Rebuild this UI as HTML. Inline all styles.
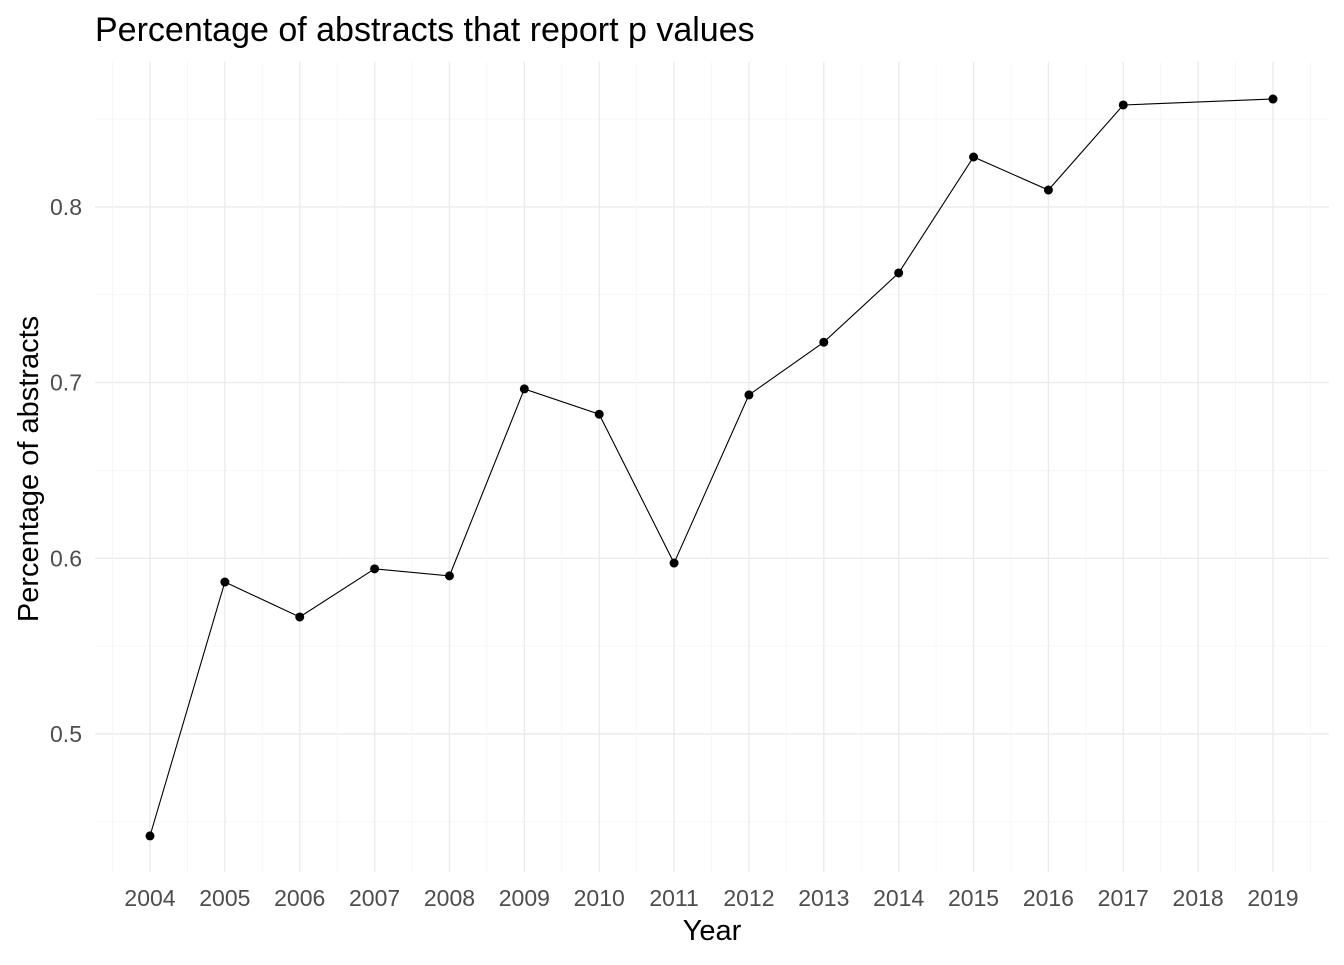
<!DOCTYPE html>
<html><head><meta charset="utf-8"><style>
body{margin:0;background:#fff;font-family:"Liberation Sans",Arial,sans-serif}
</style></head><body>
<svg id="chart" width="1344" height="960" xmlns="http://www.w3.org/2000/svg">
<text x="95" y="41" font-size="34" fill="#000">Percentage of abstracts that report p values</text>
<g id="grid"></g>
<g id="xticks"></g>
<g id="yticks"></g>
<g id="series"></g>
<text x="712" y="940" font-size="29" text-anchor="middle" fill="#000">Year</text>
<text transform="translate(38,469) rotate(-90)" font-size="29" text-anchor="middle" fill="#000">Percentage of abstracts</text>
</svg>
<script>
const years=[2004,2005,2006,2007,2008,2009,2010,2011,2012,2013,2014,2015,2016,2017,2019];
const values=[0.442,0.5865,0.5666,0.594,0.590,0.6964,0.682,0.5973,0.693,0.723,0.7624,0.8284,0.8096,0.858,0.8614];
const xTickLabels=[2004,2005,2006,2007,2008,2009,2010,2011,2012,2013,2014,2015,2016,2017,2018,2019];
const yTickLabels=[0.5,0.6,0.7,0.8];
const NS="http://www.w3.org/2000/svg";
const L=95,R=1329,T=62,B=872;
const x=v=>150+(v-2004)*(1273-150)/15;
const y=v=>734-(v-0.5)*1757;
function mk(tag,attrs,parent){const e=document.createElementNS(NS,tag);for(const k in attrs)e.setAttribute(k,attrs[k]);parent.appendChild(e);return e;}
const grid=document.getElementById('grid');
for(let v=0.45;v<=0.86;v+=0.05){const major=Math.abs(v*10-Math.round(v*10))<1e-6;
const l=mk('line',{x1:L,x2:R,y1:y(v),y2:y(v),stroke:major?'#ebebeb':'#f5f5f5','stroke-width':major?1.4:0.8},grid);

}
for(let yr=2003.5;yr<=2019.5;yr+=0.5){const major=Number.isInteger(yr);
const l=mk('line',{x1:x(yr),x2:x(yr),y1:T,y2:B,stroke:major?'#ebebeb':'#f5f5f5','stroke-width':major?1.4:0.8},grid);

}
const xt=document.getElementById('xticks');
xTickLabels.forEach(t=>{const e=mk('text',{x:x(t),y:906,'font-size':23,'text-anchor':'middle',fill:'#4d4d4d'},xt);e.textContent=t;

});
const yt=document.getElementById('yticks');
yTickLabels.forEach(t=>{const e=mk('text',{x:82,y:y(t)+8,'font-size':23,'text-anchor':'end',fill:'#4d4d4d'},yt);e.textContent=t.toFixed(1);

});
const s=document.getElementById('series');
const p=mk('polyline',{points:years.map((yr,i)=>x(yr)+','+y(values[i])).join(' '),fill:'none',stroke:'#000','stroke-width':1.1},s);


years.forEach((yr,i)=>{const c=mk('circle',{cx:x(yr),cy:y(values[i]),r:4.5,fill:'#000'},s);

});
</script>
</body></html>
